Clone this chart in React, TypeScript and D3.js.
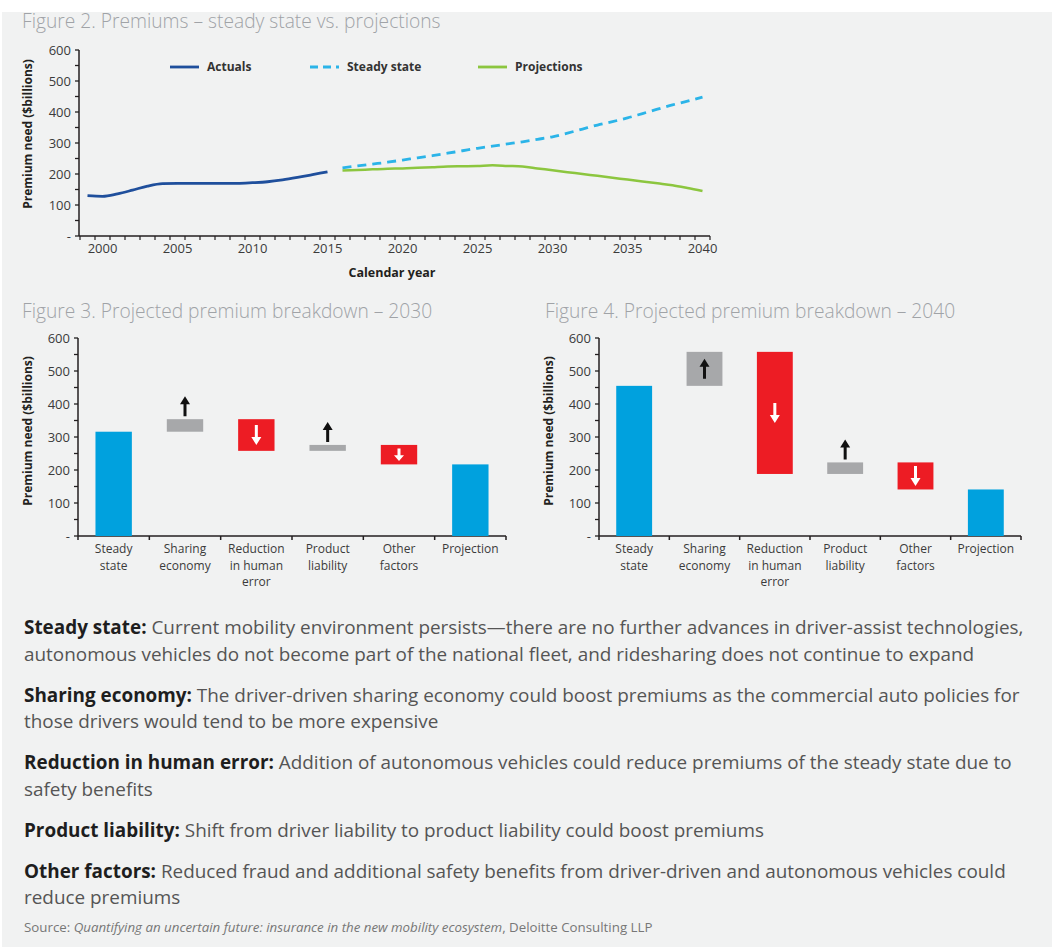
import React from "react";
import * as d3 from "d3";

// ---- Figure 2 data ----
const actualYears = [1999, 2000, 2001, 2002, 2003, 2004, 2005, 2006, 2007, 2008, 2009, 2010, 2011, 2012, 2013, 2014, 2015];
const actualValues = [130, 128, 136, 148, 161, 169, 170, 170, 170, 170, 170, 172, 175, 181, 189, 198, 207];
const projectionYears = [2016, 2017, 2018, 2019, 2020, 2021, 2022, 2023, 2024, 2025, 2026, 2027, 2028, 2029, 2030, 2031, 2032, 2033, 2034, 2035, 2036, 2037, 2038, 2039, 2040];
const steadyStateValues = [220, 226, 232, 238, 245, 252, 259, 267, 275, 283, 290, 297, 304, 312, 320, 332, 345, 358, 369, 381, 395, 409, 423, 435, 448];
const projectionValues = [211, 213, 215, 217, 218, 220, 222, 224, 225, 226, 228, 226, 224, 218, 212, 206, 200, 194, 188, 182, 176, 170, 164, 155, 145];
const yearLabels = [2000, 2005, 2010, 2015, 2020, 2025, 2030, 2035, 2040];

// ---- Figures 3 & 4 data ----
const breakdownLabels = [
  ["Steady", "state"],
  ["Sharing", "economy"],
  ["Reduction", "in human", "error"],
  ["Product", "liability"],
  ["Other", "factors"],
  ["Projection"],
];
const breakdownKinds = ["total", "up", "down", "up", "down", "total"];
const fig3Bottoms = [0, 316, 258, 258, 217, 0];
const fig3Tops = [316, 354, 354, 276, 276, 217];
const fig4Bottoms = [0, 455, 188, 188, 141, 0];
const fig4Tops = [455, 558, 558, 223, 223, 141];

// ---- notes ----
const noteLabels = ["Steady state:", "Sharing economy:", "Reduction in human error:", "Product liability:", "Other factors:"];
const noteLines = [
  [" Current mobility environment persists\u2014there are no further advances in driver-assist technologies,", "autonomous vehicles do not become part of the national fleet, and ridesharing does not continue to expand"],
  [" The driver-driven sharing economy could boost premiums as the commercial auto policies for", "those drivers would tend to be more expensive"],
  [" Addition of autonomous vehicles could reduce premiums of the steady state due to", "safety benefits"],
  [" Shift from driver liability to product liability could boost premiums"],
  [" Reduced fraud and additional safety benefits from driver-driven and autonomous vehicles could", "reduce premiums"],
];

const FONT = "'Open Sans', 'Noto Sans', sans-serif";
const AXIS = "#231f20";
const TICK_TEXT = "#3b3b3b";
const TITLE = "#a0a3a7";
const BLUE = "#00a1de";
const GRAY = "#a7a8aa";
const RED = "#ed1c24";

const YTitle = ({ x, y, children }: { x: number; y: number; children: string }) => (
  <text
    transform={`translate(${x},${y}) rotate(-90)`}
    textAnchor="middle"
    fontSize={12}
    fontWeight={700}
    fill={AXIS}
  >
    {children}
  </text>
);

const YAxis = ({ y, x0 }: { y: d3.ScaleLinear<number, number>; x0: number }) => (
  <g>
    <line x1={x0} x2={x0} y1={y(600)} y2={y(0)} stroke={AXIS} strokeWidth={1.5} />
    {y.ticks(12).map((t) => (
      <line key={t} x1={x0 - 4} x2={x0} y1={y(t)} y2={y(t)} stroke={AXIS} strokeWidth={1.3} />
    ))}
    {y.ticks(6).map((t) => (
      <text key={t} x={x0 - 8} y={y(t)} dy="0.35em" textAnchor="end" fontSize={13} fill={TICK_TEXT}>
        {t === 0 ? "-" : t}
      </text>
    ))}
  </g>
);

const PremiumLines = () => {
  const allYears = [...actualYears, ...projectionYears];
  const x = d3.scaleBand<number>().domain(allYears).range([80, 710]);
  const cx = (yr: number) => (x(yr) ?? 0) + x.bandwidth() / 2;
  const y = d3.scaleLinear().domain([0, 600]).range([236, 50]);
  const line = d3
    .line<[number, number]>()
    .x((d) => cx(d[0]))
    .y((d) => y(d[1]))
    .curve(d3.curveMonotoneX);
  const actual = line(actualYears.map((yr, i) => [yr, actualValues[i]]) as [number, number][]) ?? "";
  const steady = line(projectionYears.map((yr, i) => [yr, steadyStateValues[i]]) as [number, number][]) ?? "";
  const proj = line(projectionYears.map((yr, i) => [yr, projectionValues[i]]) as [number, number][]) ?? "";
  const bounds = [...allYears.map((yr) => x(yr) ?? 0), x.range()[1]];

  const legend = [
    { label: "Actuals", color: "#1f4f9c", dash: undefined, x: 170 },
    { label: "Steady state", color: "#2bb4e8", dash: "8 5", x: 310 },
    { label: "Projections", color: "#8cc63f", dash: undefined, x: 478 },
  ];

  return (
    <g>
      <text x={22} y={28} fontSize={19.2} fontWeight={300} fill={TITLE}>
        Figure 2. Premiums – steady state vs. projections
      </text>
      <YTitle x={32} y={134}>Premium need ($billions)</YTitle>
      <YAxis y={y} x0={79} />
      <line x1={79} x2={x.range()[1]} y1={y(0)} y2={y(0)} stroke={AXIS} strokeWidth={1.5} />
      {bounds.map((b, i) => (
        <line key={i} x1={b} x2={b} y1={y(0)} y2={y(0) + 4} stroke={AXIS} strokeWidth={1.2} />
      ))}
      {yearLabels.map((yr) => (
        <text key={yr} x={cx(yr)} y={253} textAnchor="middle" fontSize={13} fill={TICK_TEXT}>
          {yr}
        </text>
      ))}
      <text x={392} y={277} textAnchor="middle" fontSize={12.5} fontWeight={700} fill={AXIS}>
        Calendar year
      </text>
      <path d={proj} fill="none" stroke="#8cc63f" strokeWidth={2.5} />
      <path d={steady} fill="none" stroke="#2bb4e8" strokeWidth={2.8} strokeDasharray="9 6" />
      <path d={actual} fill="none" stroke="#1f4f9c" strokeWidth={2.8} />
      {legend.map((l) => (
        <g key={l.label}>
          <line x1={l.x} x2={l.x + 29} y1={67} y2={67} stroke={l.color} strokeWidth={2.8} strokeDasharray={l.dash} />
          <text x={l.x + 37} y={67} dy="0.35em" fontSize={12} fontWeight={700} fill="#333">
            {l.label}
          </text>
        </g>
      ))}
    </g>
  );
};

const arrowPath = (cx: number, yTop: number, yBot: number, up: boolean) => {
  const len = yBot - yTop;
  const head = Math.min(8, len * 0.45);
  const hw = 5;
  const sw = 1.5;
  if (up) {
    return `M${cx},${yTop} L${cx + hw},${yTop + head} L${cx + sw},${yTop + head} L${cx + sw},${yBot} L${cx - sw},${yBot} L${cx - sw},${yTop + head} L${cx - hw},${yTop + head} Z`;
  }
  return `M${cx},${yBot} L${cx + hw},${yBot - head} L${cx + sw},${yBot - head} L${cx + sw},${yTop} L${cx - sw},${yTop} L${cx - sw},${yBot - head} L${cx - hw},${yBot - head} Z`;
};

const Waterfall = ({
  title,
  titleX,
  left,
  right,
  bottoms,
  tops,
}: {
  title: string;
  titleX: number;
  left: number;
  right: number;
  bottoms: number[];
  tops: number[];
}) => {
  const x = d3
    .scaleBand<number>()
    .domain(breakdownLabels.map((_, i) => i))
    .range([left, right])
    .paddingInner(0.49)
    .paddingOuter(0.245);
  const y = d3.scaleLinear().domain([0, 600]).range([536, 338]);
  const step = (right - left) / breakdownLabels.length;
  const bounds = breakdownLabels.map((_, i) => left + step * i).concat([right]);

  return (
    <g>
      <text x={titleX} y={318} fontSize={19.2} fontWeight={300} fill={TITLE}>
        {title}
      </text>
      <YTitle x={left - 46} y={431}>Premium need ($billions)</YTitle>
      <YAxis y={y} x0={left} />
      <line x1={left} x2={right} y1={y(0)} y2={y(0)} stroke={AXIS} strokeWidth={1.5} />
      {bounds.map((b, i) => (
        <line key={i} x1={b} x2={b} y1={y(0)} y2={y(0) + 4} stroke={AXIS} strokeWidth={1.5} />
      ))}
      {breakdownLabels.map((lines, i) => {
        const kind = breakdownKinds[i];
        const bx = x(i) ?? 0;
        const w = x.bandwidth();
        const yT = y(tops[i]);
        const yB = y(bottoms[i]);
        const h = yB - yT;
        const fill = kind === "total" ? BLUE : kind === "up" ? GRAY : RED;
        const cx = bx + w / 2;
        let arrow = null;
        if (kind === "down") {
          const len = Math.min(20, h - 7);
          const mid = (yT + yB) / 2;
          arrow = <path d={arrowPath(cx, mid - len / 2, mid + len / 2, false)} fill="#fff" />;
        } else if (kind === "up") {
          if (h >= 30) {
            const mid = (yT + yB) / 2;
            arrow = <path d={arrowPath(cx, mid - 10, mid + 10, true)} fill="#111" />;
          } else {
            arrow = <path d={arrowPath(cx, yT - 23, yT - 3, true)} fill="#111" />;
          }
        }
        return (
          <g key={i}>
            <rect x={bx} y={yT} width={w} height={h} fill={fill} />
            {arrow}
            {lines.map((ln, j) => (
              <text
                key={j}
                x={left + step * (i + 0.5)}
                y={553 + j * 16.5}
                textAnchor="middle"
                fontSize={12}
                fill={TICK_TEXT}
              >
                {ln}
              </text>
            ))}
          </g>
        );
      })}
    </g>
  );
};

const Notes = () => {
  let yPos = 634;
  const out: React.ReactNode[] = [];
  noteLabels.forEach((label, i) => {
    noteLines[i].forEach((ln, j) => {
      out.push(
        <text key={`${i}-${j}`} x={24} y={yPos} fontSize={18.9} fill="#555">
          {j === 0 && (
            <tspan fontWeight={700} fill="#1e1e1e">
              {label}
            </tspan>
          )}
          {ln}
        </text>
      );
      yPos += 26.5;
    });
    yPos += 14.5;
  });
  return (
    <g>
      {out}
      <text x={24} y={932} fontSize={13.3} fill="#777">
        Source: <tspan fontStyle="italic">Quantifying an uncertain future: insurance in the new mobility ecosystem</tspan>, Deloitte Consulting LLP
      </text>
    </g>
  );
};

export default function App() {
  return (
    <div style={{ position: "absolute", left: 0, top: 0 }}>
      <svg width={1052} height={949} fontFamily={FONT} style={{ display: "block" }}>
        <rect x={0} y={0} width={1052} height={949} fill="#fff" />
        <rect x={2} y={12} width={1050} height={935} fill="#f1f2f2" />
        <PremiumLines />
        <Waterfall title="Figure 3. Projected premium breakdown – 2030" titleX={22} left={78} right={506} bottoms={fig3Bottoms} tops={fig3Tops} />
        <Waterfall title="Figure 4. Projected premium breakdown – 2040" titleX={545} left={599} right={1021} bottoms={fig4Bottoms} tops={fig4Tops} />
        <Notes />
      </svg>
    </div>
  );
}
